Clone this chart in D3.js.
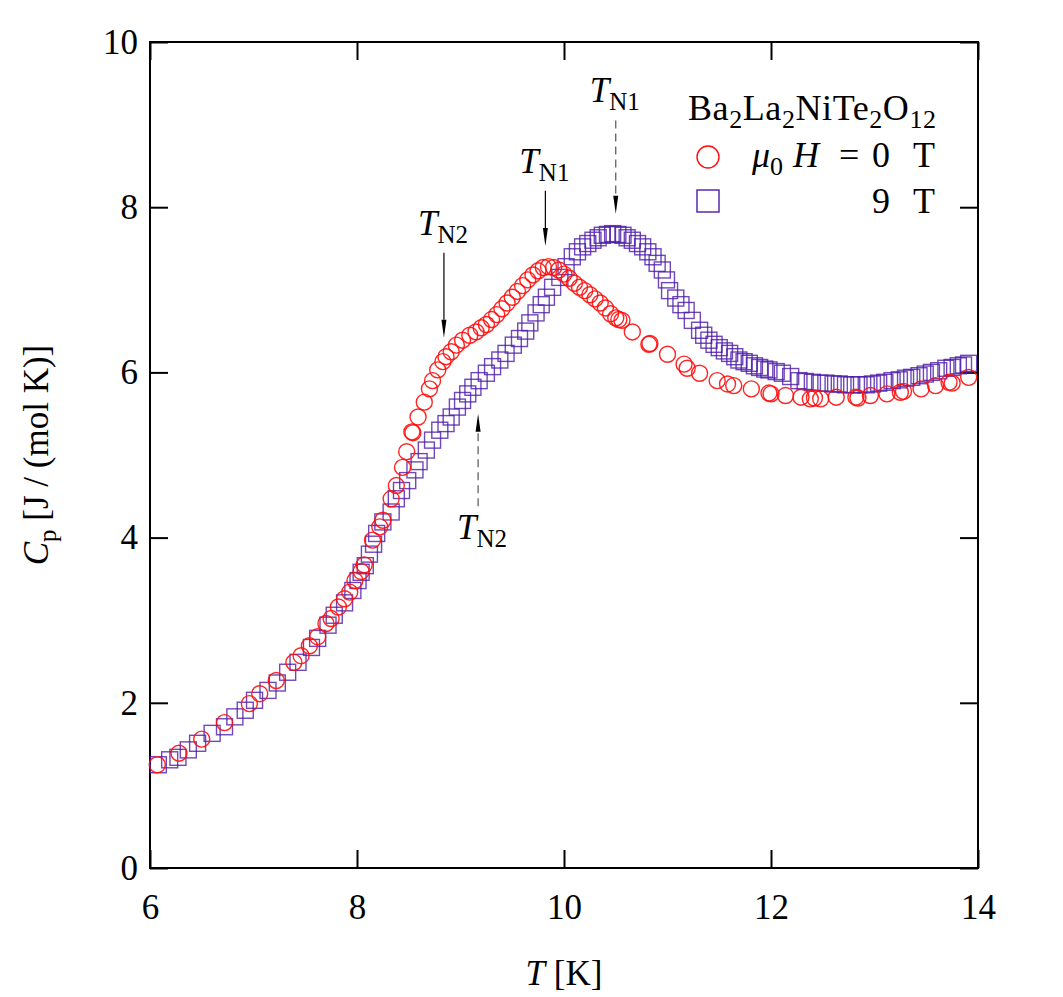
<!DOCTYPE html>
<html>
<head>
<meta charset="utf-8">
<script src="https://cdn.jsdelivr.net/npm/d3@7"></script>
<style>
  body { margin: 0; background: #fff; }
  svg text { font-family: "Liberation Serif", "Times New Roman", serif; fill: #000; }
</style>
</head>
<body>
<svg width="1063" height="997"></svg>
<script>
// data
const temp0T = [6.07,6.28,6.50,6.72,6.96,7.06,7.22,7.39,7.46,7.54,7.62,7.70,7.75,7.82,7.88,7.93,7.98,8.04,8.07,
  8.15,8.22,8.25,8.33,8.38,8.44,8.48,8.53,8.54,8.59,8.65,8.70,8.73,8.78,8.83,8.86,8.91,8.96,9.02,9.09,9.15,
  9.20,9.25,9.30,9.35,9.40,9.45,9.50,9.55,9.60,9.65,9.70,9.75,9.80,9.85,9.90,9.95,10.00,10.05,10.10,10.15,
  10.20,10.25,10.30,10.35,10.40,10.45,10.50,10.53,10.56,10.66,10.82,10.83,11.00,11.16,11.19,11.31,11.48,
  11.58,11.64,11.81,11.98,12.00,12.14,12.29,12.38,12.42,12.48,12.63,12.82,12.84,12.96,13.12,13.25,13.28,
  13.45,13.59,13.72,13.75,13.91];
const cp0T = [1.25,1.39,1.56,1.76,1.99,2.11,2.27,2.49,2.57,2.69,2.80,2.96,3.02,3.16,3.26,3.34,3.48,3.59,3.67,
  3.97,4.13,4.21,4.47,4.63,4.85,5.04,5.28,5.27,5.46,5.64,5.80,5.90,6.03,6.13,6.19,6.25,6.33,6.39,6.45,6.49,
  6.54,6.58,6.64,6.70,6.77,6.84,6.91,6.98,7.05,7.12,7.18,7.23,7.27,7.28,7.27,7.24,7.19,7.14,7.08,7.03,
  6.99,6.94,6.89,6.84,6.78,6.71,6.66,6.64,6.63,6.49,6.34,6.35,6.22,6.10,6.05,5.99,5.90,
  5.86,5.84,5.80,5.75,5.74,5.72,5.70,5.68,5.69,5.68,5.70,5.70,5.69,5.72,5.74,5.76,5.77,
  5.80,5.84,5.88,5.87,5.94];

const temp9T = [6.08,6.19,6.27,6.37,6.46,6.60,6.72,6.82,6.92,7.01,7.14,7.23,7.33,7.43,7.56,7.62,7.72,7.78,7.88,
  7.96,8.01,8.04,8.08,8.12,8.16,8.19,8.25,8.33,8.38,8.43,8.49,8.56,8.60,8.67,8.73,8.80,8.86,8.91,8.97,9.02,
  9.07,9.12,9.18,9.25,9.31,9.38,9.44,9.51,9.57,9.63,9.67,9.73,9.78,9.83,9.89,9.96,10.02,10.08,10.13,10.18,
  10.23,10.28,10.33,10.37,10.42,10.47,10.52,10.57,10.61,10.66,10.71,10.76,10.81,10.86,10.90,10.95,10.99,
  11.02,11.08,11.13,11.18,11.24,11.31,11.35,11.40,11.45,11.50,11.55,11.60,11.65,11.69,11.74,11.79,11.84,
  11.89,11.94,11.98,12.05,12.11,12.19,12.27,12.33,12.40,12.47,12.53,12.60,12.66,12.72,12.78,12.85,12.92,
  12.98,13.04,13.10,13.17,13.24,13.30,13.36,13.43,13.49,13.55,13.62,13.69,13.75,13.81,13.86,13.91];
const cp9T = [1.25,1.31,1.34,1.43,1.51,1.63,1.71,1.83,1.91,2.03,2.15,2.24,2.37,2.49,2.67,2.78,2.94,3.06,3.21,
  3.36,3.48,3.58,3.66,3.80,3.92,4.05,4.19,4.31,4.47,4.57,4.69,4.82,4.92,5.06,5.18,5.30,5.38,5.46,5.58,5.66,
  5.74,5.82,5.90,5.99,6.07,6.15,6.23,6.33,6.41,6.50,6.60,6.72,6.82,6.91,7.03,7.15,7.28,7.40,7.46,7.52,
  7.56,7.60,7.63,7.66,7.67,7.68,7.67,7.66,7.63,7.60,7.56,7.52,7.46,7.40,7.32,7.24,7.12,
  6.99,6.90,6.82,6.75,6.63,6.51,6.45,6.39,6.34,6.30,6.26,6.23,6.19,6.15,6.13,6.11,6.08,
  6.06,6.04,6.03,6.01,5.99,5.95,5.90,5.89,5.88,5.87,5.87,5.86,5.86,5.85,5.85,5.85,5.85,
  5.86,5.87,5.88,5.90,5.91,5.93,5.94,5.96,5.98,6.00,6.02,6.05,6.06,6.08,6.09,6.11];

const xTicks = [6, 8, 10, 12, 14];
const yTicks = [0, 2, 4, 6, 8, 10];

// arrows: temperature, start Cp, end Cp, dashed?, label
const arrowT = [10.5, 9.82, 8.84, 9.17];
const arrowFrom = [9.05, 8.2, 7.45, 4.38];
const arrowTo = [7.92, 7.53, 6.42, 5.5];
const arrowDashed = [true, false, false, true];
const arrowLabel = ["N1", "N1", "N2", "N2"];

let width = 1063, height = 997;
let margin = {left: 150, right: 85, top: 42, bottom: 129};

const svg = d3.select('svg');
const x = d3.scaleLinear().domain([6, 14]).range([margin.left, width - margin.right]);
const y = d3.scaleLinear().domain([0, 10]).range([height - margin.bottom, margin.top]);
const red = '#ff0d0d', purple = '#4c1aa8';

const styleAxis = g => {
  g.select('.domain').remove();
  g.selectAll('.tick line').attr('stroke', '#000').attr('stroke-width', 2);
  g.selectAll('.tick text').style('font-size', '35px');
}

svg.append('g').attr('transform', `translate(0,${y(0)})`)
  .call(d3.axisBottom(x).tickValues(xTicks).tickSize(-18).tickPadding(26).tickFormat(d3.format('d')))
  .call(styleAxis);
svg.append('g').attr('transform', `translate(${x(6)},0)`)
  .call(d3.axisLeft(y).tickValues(yTicks).tickSize(-18).tickPadding(12).tickFormat(d3.format('d')))
  .call(styleAxis);
svg.append('g').attr('transform', `translate(0,${y(10)})`)
  .call(d3.axisTop(x).tickValues(xTicks).tickSize(-18).tickFormat(''))
  .call(styleAxis);
svg.append('g').attr('transform', `translate(${x(14)},0)`)
  .call(d3.axisRight(y).tickValues(yTicks).tickSize(-18).tickFormat(''))
  .call(styleAxis);

svg.append('rect')
  .attr('x', x(6)).attr('y', y(10))
  .attr('width', x(14) - x(6)).attr('height', y(0) - y(10))
  .attr('fill', 'none').attr('stroke', '#000').attr('stroke-width', 2);

// 9 T squares
const sq = 16;
svg.append('g').selectAll('rect').data(temp9T).enter().append('rect')
  .attr('x', (d) => x(d) - sq / 2)
  .attr('y', (d, i) => y(cp9T[i]) - sq / 2)
  .attr('width', sq).attr('height', sq)
  .attr('fill', 'none').attr('stroke', purple).attr('stroke-width', 1.4).attr('stroke-opacity', 0.8);

// 0 T circles
svg.append('g').selectAll('circle').data(temp0T).enter().append('circle')
  .attr('cx', (d) => x(d))
  .attr('cy', (d, i) => y(cp0T[i]))
  .attr('r', 8)
  .attr('fill', 'none').attr('stroke', red).attr('stroke-width', 1.4).attr('stroke-opacity', 0.9);

// arrows
arrowT.forEach((t, i) => {
  const ax = x(t), y1 = y(arrowFrom[i]), y2 = y(arrowTo[i]);
  const dir = y2 > y1 ? 1 : -1;
  const head = 18;
  svg.append('line')
    .attr('x1', ax).attr('x2', ax)
    .attr('y1', y1).attr('y2', y2 - dir * head)
    .attr('stroke', arrowDashed[i] ? '#555' : '#000')
    .attr('stroke-width', 1.2)
    .attr('stroke-dasharray', arrowDashed[i] ? '8,5' : null);
  svg.append('path')
    .attr('d', `M${ax},${y2} L${ax - 2.5},${y2 - dir * head} L${ax + 2.5},${y2 - dir * head} Z`)
    .attr('fill', '#000');
  const ly = dir > 0 ? y1 - 18 : y1 + 33;
  const lbl = svg.append('text').attr('x', ax - (dir > 0 ? 26 : 21)).attr('y', ly).style('font-size', '35px');
  lbl.append('tspan').style('font-style', 'italic').text('T');
  lbl.append('tspan').attr('dy', 8).style('font-size', '25px').text(arrowLabel[i]);
});

// legend
const title = svg.append('text').attr('x', 688).attr('y', 120).style('font-size', '36px')
  .attr('textLength', 248).attr('lengthAdjust', 'spacing');
[['Ba', false], ['2', true], ['La', false], ['2', true], ['NiTe', false], ['2', true], ['O', false], ['12', true]]
  .forEach(([s, sub], k, arr) => {
    const prevSub = k > 0 && arr[k - 1][1];
    title.append('tspan')
      .attr('dy', sub ? 8 : (prevSub ? -8 : 0))
      .style('font-size', sub ? '26px' : '36px')
      .text(s);
  });

svg.append('circle').attr('cx', 708).attr('cy', 157).attr('r', 11)
  .attr('fill', 'none').attr('stroke', red).attr('stroke-width', 1.4);
svg.append('rect').attr('x', 697).attr('y', 190).attr('width', 22).attr('height', 22)
  .attr('fill', 'none').attr('stroke', purple).attr('stroke-width', 1.4);

const l1 = svg.append('text').attr('y', 167).style('font-size', '36px');
l1.append('tspan').attr('x', 752).style('font-style', 'italic').text('μ');
l1.append('tspan').attr('dy', 8).style('font-size', '26px').text('0');
l1.append('tspan').attr('x', 793).attr('dy', -8).style('font-style', 'italic').text('H');
l1.append('tspan').attr('x', 839).text('=');
l1.append('tspan').attr('x', 872).text('0');
l1.append('tspan').attr('x', 935).attr('text-anchor', 'end').text('T');
const l2 = svg.append('text').attr('y', 213).style('font-size', '36px');
l2.append('tspan').attr('x', 872).text('9');
l2.append('tspan').attr('x', 935).attr('text-anchor', 'end').text('T');

// axis titles
const xt = svg.append('text').attr('x', x(10)).attr('y', 985).attr('text-anchor', 'middle').style('font-size', '35px');
xt.append('tspan').style('font-style', 'italic').text('T');
xt.append('tspan').text(' [K]');

const yt = svg.append('text').attr('transform', `translate(48,${y(5)}) rotate(-90)`)
  .attr('text-anchor', 'middle').style('font-size', '35px');
yt.append('tspan').style('font-style', 'italic').text('C');
yt.append('tspan').attr('dy', 8).style('font-size', '25px').text('p');
yt.append('tspan').attr('dy', -8).text(' [J / (mol K)]');
</script>
</body>
</html>
